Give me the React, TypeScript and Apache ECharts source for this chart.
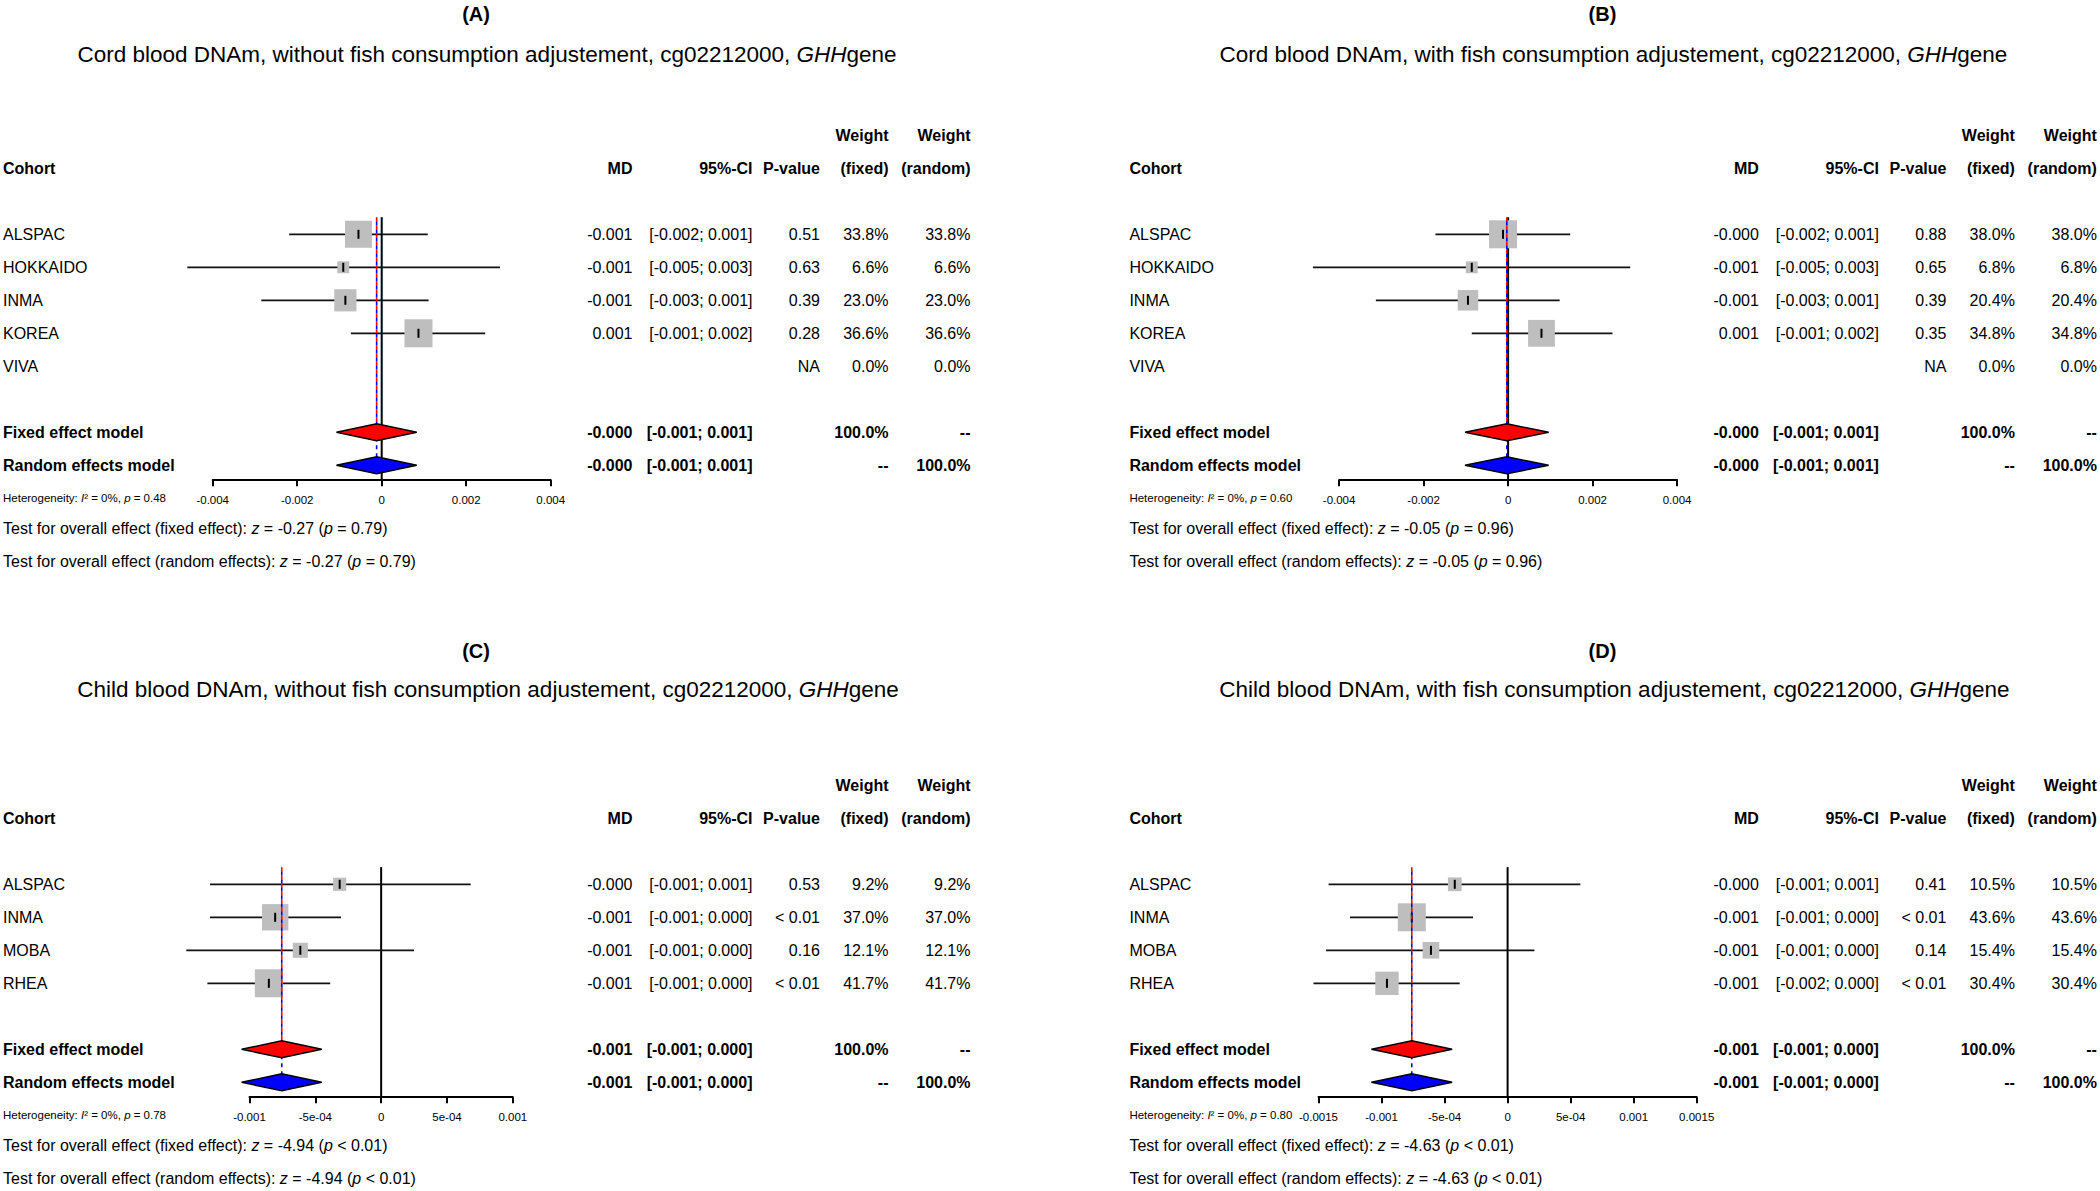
import React, { useEffect, useRef } from "react";
import * as echarts from "echarts";

const FONT = "'Liberation Sans', Arial, Helvetica, sans-serif";

// ---------- Panel A : cord blood, without fish adjustment ----------
const cohortsA = ["ALSPAC", "HOKKAIDO", "INMA", "KOREA", "VIVA"];
const mdA = [-0.00055, -0.00091, -0.00086, 0.00087, null];
const lowerA = [-0.00219, -0.0046, -0.00285, -0.00073, null];
const upperA = [0.00109, 0.0028, 0.00111, 0.00245, null];
const weightA = [33.8, 6.6, 23.0, 36.6, 0.0];
const mdTextA = ["-0.001", "-0.001", "-0.001", "0.001", ""];
const ciTextA = ["[-0.002; 0.001]", "[-0.005; 0.003]", "[-0.003; 0.001]", "[-0.001; 0.002]", ""];
const pTextA = ["0.51", "0.63", "0.39", "0.28", "NA"];
const pooledA = [-0.00012, -0.00107, 0.00083];
const pooledTextA = ["-0.000", "[-0.001; 0.001]"];
const hetPA = "0.48";
const zA = "-0.27";
const pzA = "= 0.79";
const tickLabelsA = ["-0.004", "-0.002", "0", "0.002", "0.004"];

// ---------- Panel B : cord blood, with fish adjustment ----------
const cohortsB = ["ALSPAC", "HOKKAIDO", "INMA", "KOREA", "VIVA"];
const mdB = [-0.00012, -0.00086, -0.00095, 0.00079, null];
const lowerB = [-0.00172, -0.00462, -0.00313, -0.00086, null];
const upperB = [0.00147, 0.00289, 0.00122, 0.00247, null];
const weightB = [38.0, 6.8, 20.4, 34.8, 0.0];
const mdTextB = ["-0.000", "-0.001", "-0.001", "0.001", ""];
const ciTextB = ["[-0.002; 0.001]", "[-0.005; 0.003]", "[-0.003; 0.001]", "[-0.001; 0.002]", ""];
const pTextB = ["0.88", "0.65", "0.39", "0.35", "NA"];
const pooledB = [-0.00003, -0.00102, 0.00096];
const pooledTextB = ["-0.000", "[-0.001; 0.001]"];
const hetPB = "0.60";
const zB = "-0.05";
const pzB = "= 0.96";
const tickLabelsB = ["-0.004", "-0.002", "0", "0.002", "0.004"];

// ---------- Panel C : child blood, without fish adjustment ----------
const cohortsC = ["ALSPAC", "INMA", "MOBA", "RHEA"];
const mdC = [-0.000315, -0.000805, -0.000614, -0.000853];
const lowerC = [-0.0013, -0.0013, -0.00148, -0.00132];
const upperC = [0.00068, -0.000305, 0.00025, -0.000387];
const weightC = [9.2, 37.0, 12.1, 41.7];
const mdTextC = ["-0.000", "-0.001", "-0.001", "-0.001"];
const ciTextC = ["[-0.001; 0.001]", "[-0.001; 0.000]", "[-0.001; 0.000]", "[-0.001; 0.000]"];
const pTextC = ["0.53", "< 0.01", "0.16", "< 0.01"];
const pooledC = [-0.000755, -0.00106, -0.000451];
const pooledTextC = ["-0.001", "[-0.001; 0.000]"];
const hetPC = "0.78";
const zC = "-4.94";
const pzC = "< 0.01";
const tickLabelsC = ["-0.001", "-5e-04", "0", "5e-04", "0.001"];

// ---------- Panel D : child blood, with fish adjustment ----------
const cohortsD = ["ALSPAC", "INMA", "MOBA", "RHEA"];
const mdD = [-0.000419, -0.00076, -0.000608, -0.000957];
const lowerD = [-0.00142, -0.00125, -0.00144, -0.00154];
const upperD = [0.000577, -0.000274, 0.000213, -0.00038];
const weightD = [10.5, 43.6, 15.4, 30.4];
const mdTextD = ["-0.000", "-0.001", "-0.001", "-0.001"];
const ciTextD = ["[-0.001; 0.001]", "[-0.001; 0.000]", "[-0.001; 0.000]", "[-0.002; 0.000]"];
const pTextD = ["0.41", "< 0.01", "0.14", "< 0.01"];
const pooledD = [-0.00076, -0.00108, -0.00044];
const pooledTextD = ["-0.001", "[-0.001; 0.000]"];
const hetPD = "0.80";
const zD = "-4.63";
const pzD = "< 0.01";
const tickLabelsD = ["-0.0015", "-0.001", "-5e-04", "0", "5e-04", "0.001", "0.0015"];

const letters = ["(A)", "(B)", "(C)", "(D)"];
const subtitles = [
  "Cord blood DNAm, without fish consumption adjustement, cg02212000, ",
  "Cord blood DNAm, with fish consumption adjustement, cg02212000, ",
  "Child blood DNAm, without fish consumption adjustement, cg02212000, ",
  "Child blood DNAm, with fish consumption adjustement, cg02212000, ",
];

// ---------- layout (pixels) ----------
const ROW0 = 234.3;
const ROWH = 33;
const BOX_MAX = 28;
const COLS = { cohort: 3, md: 632.5, ci: 752.5, p: 820, wf: 888.5, wr: 970.5 };
const layouts = [
  { dx: 0, dy: 0, titleY: 14, subY: 54.5, letterX: 476, subX: 487, left: 212.7, width: 338, min: -0.004, max: 0.004, interval: 0.002 },
  { dx: 1126.4, dy: 0, titleY: 14, subY: 54.5, letterX: 476, subX: 487, left: 212.7, width: 338, min: -0.004, max: 0.004, interval: 0.002 },
  { dx: 0, dy: 650, titleY: 651, subY: 689, letterX: 476, subX: 488, left: 249.5, width: 263.3, min: -0.001, max: 0.001, interval: 0.0005 },
  { dx: 1126.4, dy: 650, titleY: 651, subY: 689, letterX: 476, subX: 488, left: 192.1, width: 378.2, min: -0.0015, max: 0.0015, interval: 0.0005 },
];

const panelData = [
  { cohorts: cohortsA, md: mdA, lo: lowerA, hi: upperA, w: weightA, mdT: mdTextA, ciT: ciTextA, pT: pTextA, pooled: pooledA, pooledT: pooledTextA, het: hetPA, z: zA, pz: pzA, ticks: tickLabelsA },
  { cohorts: cohortsB, md: mdB, lo: lowerB, hi: upperB, w: weightB, mdT: mdTextB, ciT: ciTextB, pT: pTextB, pooled: pooledB, pooledT: pooledTextB, het: hetPB, z: zB, pz: pzB, ticks: tickLabelsB },
  { cohorts: cohortsC, md: mdC, lo: lowerC, hi: upperC, w: weightC, mdT: mdTextC, ciT: ciTextC, pT: pTextC, pooled: pooledC, pooledT: pooledTextC, het: hetPC, z: zC, pz: pzC, ticks: tickLabelsC },
  { cohorts: cohortsD, md: mdD, lo: lowerD, hi: upperD, w: weightD, mdT: mdTextD, ciT: ciTextD, pT: pTextD, pooled: pooledD, pooledT: pooledTextD, het: hetPD, z: zD, pz: pzD, ticks: tickLabelsD },
];

function txt(x: number, y: number, text: string, o: any = {}) {
  return {
    type: "text",
    x,
    y,
    silent: true,
    style: {
      text,
      fill: "#000",
      fontFamily: FONT,
      fontSize: o.size || 16,
      fontWeight: o.bold ? "bold" : "normal",
      fontStyle: o.italic ? "italic" : "normal",
      textAlign: o.align || "left",
      align: o.align || "left",
      verticalAlign: "middle",
      textVerticalAlign: "middle",
      rich: o.rich,
    },
  };
}

function buildOption() {
  const grids: any[] = [];
  const xAxes: any[] = [];
  const yAxes: any[] = [];
  const series: any[] = [];
  const graphics: any[] = [];

  panelData.forEach((d, g) => {
    const L = layouts[g];
    const n = d.cohorts.length;
    const axisRow = n + 2.45;
    const rowY = (r: number) => ROW0 + L.dy + r * ROWH;
    const axisY = rowY(axisRow);

    grids.push({
      left: L.left + L.dx,
      width: L.width,
      top: rowY(-1),
      height: (axisRow + 1) * ROWH,
      containLabel: false,
      outerBoundsMode: "none",
    });
    yAxes.push({ type: "value", gridIndex: g, inverse: true, min: -1, max: axisRow, show: false });
    xAxes.push({
      type: "value",
      gridIndex: g,
      min: L.min,
      max: L.max,
      interval: L.interval,
      axisLine: { show: true, onZero: false, lineStyle: { color: "#000", width: 2 } },
      axisTick: { show: true, length: 6, lineStyle: { color: "#000", width: 2 } },
      splitLine: { show: false },
      axisLabel: {
        margin: 14,
        fontSize: 11.5,
        color: "#000",
        fontFamily: FONT,
        formatter: (v: number) => d.ticks[Math.round((v - L.min) / L.interval)] ?? "",
      },
    });

    const wmax = Math.max(...d.w);
    const ciData: any[] = [];
    const boxData: any[] = [];
    d.cohorts.forEach((_, i) => {
      if (d.md[i] === null) return;
      ciData.push([d.lo[i], d.hi[i], i]);
      boxData.push([d.md[i], i, d.w[i]]);
    });

    // zero reference line
    series.push({
      type: "line",
      xAxisIndex: g,
      yAxisIndex: g,
      data: [[0, -0.52], [0, axisRow]],
      symbol: "none",
      silent: true,
      clip: false,
      lineStyle: { color: "#000", width: 2 },
      z: 1,
    });
    // confidence intervals
    series.push({
      type: "custom",
      xAxisIndex: g,
      yAxisIndex: g,
      clip: false,
      silent: true,
      data: ciData,
      encode: { x: [0, 1], y: 2 },
      z: 2,
      renderItem: (_p: any, api: any) => {
        const a = api.coord([api.value(0), api.value(2)]);
        const b = api.coord([api.value(1), api.value(2)]);
        return {
          type: "line",
          shape: { x1: a[0], y1: a[1], x2: b[0], y2: b[1] },
          style: { stroke: "#111", lineWidth: 1.8 },
        };
      },
    });
    // weighted squares with estimate tick
    series.push({
      type: "custom",
      xAxisIndex: g,
      yAxisIndex: g,
      clip: false,
      silent: true,
      data: boxData,
      encode: { x: 0, y: 1 },
      z: 3,
      renderItem: (_p: any, api: any) => {
        const c = api.coord([api.value(0), api.value(1)]);
        const s = BOX_MAX * Math.sqrt(api.value(2) / wmax);
        return {
          type: "group",
          children: [
            { type: "rect", shape: { x: c[0] - s / 2, y: c[1] - s / 2, width: s, height: s }, style: { fill: "#bebebe" } },
            { type: "line", shape: { x1: c[0], y1: c[1] - 4.5, x2: c[0], y2: c[1] + 4.5 }, style: { stroke: "#000", lineWidth: 2 } },
          ],
        };
      },
    });
    // pooled estimate lines
    series.push({
      type: "line",
      xAxisIndex: g,
      yAxisIndex: g,
      data: [[d.pooled[0], -0.52], [d.pooled[0], n + 1]],
      symbol: "none",
      silent: true,
      clip: false,
      lineStyle: { color: "#ff0000", width: 1.6, type: [4, 4] },
      z: 4,
    });
    series.push({
      type: "line",
      xAxisIndex: g,
      yAxisIndex: g,
      data: [[d.pooled[0], -0.52], [d.pooled[0], n + 2]],
      symbol: "none",
      silent: true,
      clip: false,
      lineStyle: { color: "#0000ff", width: 1.6, type: [4, 4], dashOffset: 4 },
      z: 4,
    });
    // diamonds
    series.push({
      type: "custom",
      xAxisIndex: g,
      yAxisIndex: g,
      clip: false,
      silent: true,
      data: [
        [d.pooled[0], d.pooled[1], d.pooled[2], n + 1, 0],
        [d.pooled[0], d.pooled[1], d.pooled[2], n + 2, 1],
      ],
      encode: { x: [0, 1, 2], y: 3 },
      z: 5,
      renderItem: (_p: any, api: any) => {
        const r = api.value(3);
        const c = api.coord([api.value(0), r]);
        const lo = api.coord([api.value(1), r]);
        const hi = api.coord([api.value(2), r]);
        const h = 8.5;
        return {
          type: "polygon",
          shape: { points: [[lo[0], c[1]], [c[0], c[1] - h], [hi[0], c[1]], [c[0], c[1] + h]] },
          style: { fill: api.value(4) === 0 ? "#ff0000" : "#0000ff", stroke: "#000", lineWidth: 1.5 },
        };
      },
    });

    // ----- texts -----
    const X = (v: number) => v + L.dx;
    graphics.push(txt(X(L.letterX), L.titleY, letters[g], { bold: true, size: 20, align: "center" }));
    graphics.push(
      txt(X(L.subX), L.subY, `{n|${subtitles[g]}}{i|GHH}{n|gene}`, {
        align: "center",
        size: 22.5,
        rich: {
          n: { fontFamily: FONT, fontSize: 22.5, fill: "#000", color: "#000" },
          i: { fontFamily: FONT, fontSize: 22.5, fontStyle: "italic", fill: "#000", color: "#000" },
        },
      })
    );
    graphics.push(txt(X(COLS.wf), rowY(-3), "Weight", { bold: true, align: "right" }));
    graphics.push(txt(X(COLS.wr), rowY(-3), "Weight", { bold: true, align: "right" }));
    graphics.push(txt(X(COLS.cohort), rowY(-2), "Cohort", { bold: true }));
    graphics.push(txt(X(COLS.md), rowY(-2), "MD", { bold: true, align: "right" }));
    graphics.push(txt(X(COLS.ci), rowY(-2), "95%-CI", { bold: true, align: "right" }));
    graphics.push(txt(X(COLS.p), rowY(-2), "P-value", { bold: true, align: "right" }));
    graphics.push(txt(X(COLS.wf), rowY(-2), "(fixed)", { bold: true, align: "right" }));
    graphics.push(txt(X(COLS.wr), rowY(-2), "(random)", { bold: true, align: "right" }));

    d.cohorts.forEach((name, i) => {
      const y = rowY(i);
      graphics.push(txt(X(COLS.cohort), y, name));
      if (d.mdT[i]) graphics.push(txt(X(COLS.md), y, d.mdT[i], { align: "right" }));
      if (d.ciT[i]) graphics.push(txt(X(COLS.ci), y, d.ciT[i], { align: "right" }));
      graphics.push(txt(X(COLS.p), y, d.pT[i], { align: "right" }));
      graphics.push(txt(X(COLS.wf), y, d.w[i].toFixed(1) + "%", { align: "right" }));
      graphics.push(txt(X(COLS.wr), y, d.w[i].toFixed(1) + "%", { align: "right" }));
    });

    const yf = rowY(n + 1);
    const yr = rowY(n + 2);
    graphics.push(txt(X(COLS.cohort), yf, "Fixed effect model", { bold: true }));
    graphics.push(txt(X(COLS.md), yf, d.pooledT[0], { bold: true, align: "right" }));
    graphics.push(txt(X(COLS.ci), yf, d.pooledT[1], { bold: true, align: "right" }));
    graphics.push(txt(X(COLS.wf), yf, "100.0%", { bold: true, align: "right" }));
    graphics.push(txt(X(COLS.wr), yf, "--", { bold: true, align: "right" }));
    graphics.push(txt(X(COLS.cohort), yr, "Random effects model", { bold: true }));
    graphics.push(txt(X(COLS.md), yr, d.pooledT[0], { bold: true, align: "right" }));
    graphics.push(txt(X(COLS.ci), yr, d.pooledT[1], { bold: true, align: "right" }));
    graphics.push(txt(X(COLS.wf), yr, "--", { bold: true, align: "right" }));
    graphics.push(txt(X(COLS.wr), yr, "100.0%", { bold: true, align: "right" }));

    const small = {
      n: { fontFamily: FONT, fontSize: 11.5, fill: "#000", color: "#000" },
      i: { fontFamily: FONT, fontSize: 11.5, fontStyle: "italic", fill: "#000", color: "#000" },
    };
    graphics.push(
      txt(X(COLS.cohort), axisY + 17.5, `{n|Heterogeneity: }{i|I}{n|² = 0%, }{i|p}{n| = ${d.het}}`, { size: 11.5, rich: small })
    );
    const big = {
      n: { fontFamily: FONT, fontSize: 16, fill: "#000", color: "#000" },
      i: { fontFamily: FONT, fontSize: 16, fontStyle: "italic", fill: "#000", color: "#000" },
    };
    graphics.push(
      txt(X(COLS.cohort), axisY + 48.5, `{n|Test for overall effect (fixed effect): }{i|z}{n| = ${d.z} (}{i|p}{n| ${d.pz})}`, { rich: big })
    );
    graphics.push(
      txt(X(COLS.cohort), axisY + 81, `{n|Test for overall effect (random effects): }{i|z}{n| = ${d.z} (}{i|p}{n| ${d.pz})}`, { rich: big })
    );
  });

  return {
    animation: false,
    backgroundColor: "#ffffff",
    grid: grids,
    xAxis: xAxes,
    yAxis: yAxes,
    series,
    graphic: graphics,
  };
}

export default function App() {
  const ref = useRef<HTMLDivElement>(null);
  useEffect(() => {
    if (!ref.current) return;
    const chart = echarts.init(ref.current, null, { renderer: "svg", width: 2100, height: 1191 });
    chart.setOption(buildOption() as any);
    return () => chart.dispose();
  }, []);
  return (
    <div
      ref={ref}
      style={{ position: "absolute", left: 0, top: 0, width: 2100, height: 1191, background: "#fff" }}
    />
  );
}
